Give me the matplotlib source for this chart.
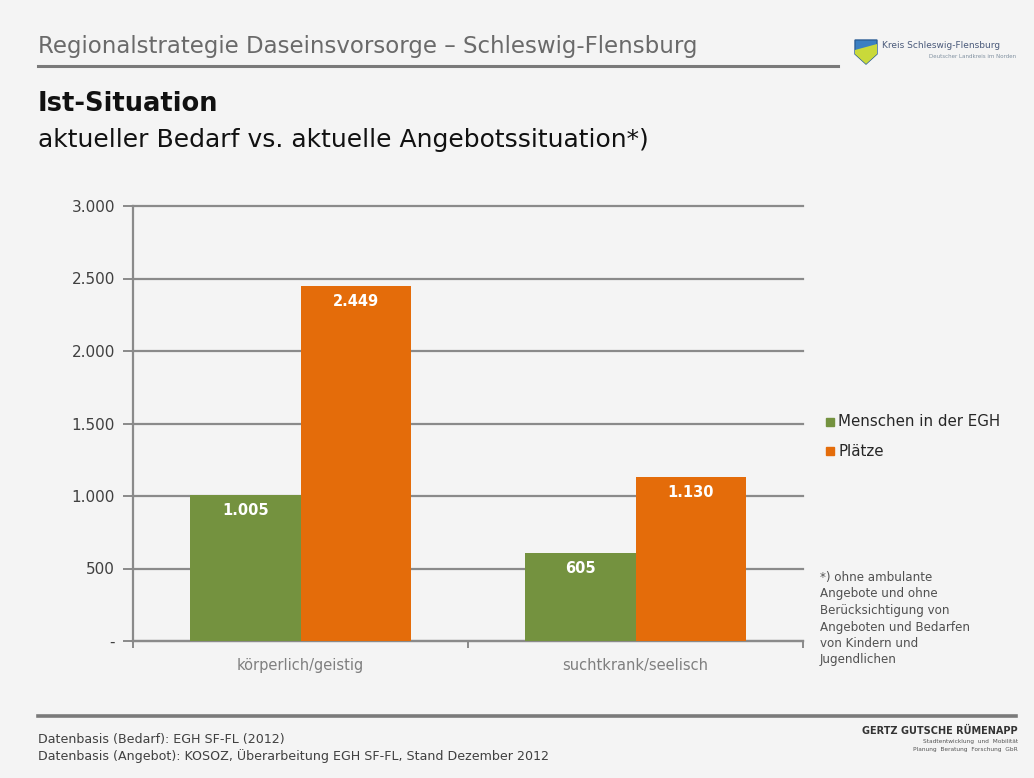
import matplotlib.pyplot as plt
from matplotlib.patches import Polygon
import numpy as np

categories = ["körperlich/geistig", "suchtkrank/seelisch"]
series_names = ["Menschen in der EGH", "Plätze"]
menschen = [1005, 605]
plaetze = [2449, 1130]
yticks = [0, 500, 1000, 1500, 2000, 2500, 3000]
ytick_labels = ["-", "500", "1.000", "1.500", "2.000", "2.500", "3.000"]

green = "#74923F"
orange = "#E46C0A"
bg = "#f4f4f4"
grid_c = "#8a8a8a"

plt.rcParams["font.family"] = ["DejaVu Sans"]

fig = plt.figure(figsize=(10.34, 7.78), dpi=100, facecolor=bg)
ax = fig.add_axes([133 / 1034, 1 - 641 / 778, 670 / 1034, 435 / 778])
ax.set_facecolor(bg)

x = np.arange(len(categories))
w = 0.33
b1 = ax.bar(x - w / 2, menschen, w, color=green, label=series_names[0], zorder=3)
b2 = ax.bar(x + w / 2, plaetze, w, color=orange, label=series_names[1], zorder=3)

def fmt(v):
    return f"{v:,}".replace(",", ".")

for bars, vals in ((b1, menschen), (b2, plaetze)):
    for r, v in zip(bars, vals):
        ax.text(r.get_x() + r.get_width() / 2, v - 55, fmt(v), ha="center", va="top",
                color="white", fontsize=10.5, fontweight="bold", zorder=4)

ax.set_xlim(-0.5, 1.5)
ax.set_ylim(0, 3000)
ax.set_yticks(yticks)
ax.set_yticklabels(ytick_labels, color="#404040", fontsize=11)
ax.yaxis.grid(True, color=grid_c, linewidth=1.6, zorder=0)
for gl in ax.yaxis.get_gridlines():
    gl.set_clip_on(False)
ax.set_axisbelow(True)

ax.set_xticks([-0.5, 0.5, 1.5])
ax.set_xticklabels([])
ax.set_xticks(x, minor=True)
ax.set_xticklabels(categories, minor=True, color="#7f7f7f", fontsize=10.5)
ax.tick_params(axis="x", which="minor", length=0, pad=12)
ax.tick_params(axis="x", which="major", length=5, color=grid_c, width=1.4)
ax.tick_params(axis="y", length=7, color=grid_c, width=1.4, pad=6)

for s in ("top", "right"):
    ax.spines[s].set_visible(False)
for s in ("left", "bottom"):
    ax.spines[s].set_color(grid_c)
    ax.spines[s].set_linewidth(1.6)

# legend drawn by hand beside the plot area
for i, (name, col) in enumerate(zip(series_names, [green, orange])):
    yy = 1 - (422 + i * 29) / 778
    fig.patches.append(plt.Rectangle((826 / 1034, yy - 4 / 778), 8 / 1034, 8 / 778,
                                     transform=fig.transFigure, color=col))
    fig.text(838 / 1034, yy, name, fontsize=10.8, color="#262626", va="center")

note = ("*) ohne ambulante\nAngebote und ohne\nBerücksichtigung von\n"
        "Angeboten und Bedarfen\nvon Kindern und\nJugendlichen")
fig.text(820 / 1034, 1 - 571 / 778, note, fontsize=8.6, color="#505050", va="top",
         linespacing=1.35)

# header
fig.text(38 / 1034, 1 - 47 / 778, "Regionalstrategie Daseinsvorsorge \u2013 Schleswig-Flensburg",
         fontsize=16.5, color="#6a6a6a", va="center")
fig.add_artist(plt.Line2D([38 / 1034, 838 / 1034], [1 - 66 / 778] * 2, color="#7a7a7a",
                          linewidth=2.2, transform=fig.transFigure))
fig.text(38 / 1034, 1 - 104 / 778, "Ist-Situation", fontsize=18.5, fontweight="bold",
         color="#111111", va="center")
fig.text(38 / 1034, 1 - 140 / 778, "aktueller Bedarf vs. aktuelle Angebotssituation*)",
         fontsize=18, color="#111111", va="center")

# small district logo
shield = Polygon(np.array([[855 / 1034, 1 - 40 / 778], [877 / 1034, 1 - 40 / 778],
                           [877 / 1034, 1 - 54 / 778], [866 / 1034, 1 - 64 / 778],
                           [855 / 1034, 1 - 54 / 778]]),
                 closed=True, transform=fig.transFigure, facecolor="#3a7fc2",
                 edgecolor="#2b5e96")
fig.patches.append(shield)
lower = Polygon(np.array([[855 / 1034, 1 - 50 / 778], [877 / 1034, 1 - 44 / 778],
                          [877 / 1034, 1 - 54 / 778], [866 / 1034, 1 - 64 / 778],
                          [855 / 1034, 1 - 54 / 778]]),
                closed=True, transform=fig.transFigure, facecolor="#c9d93a")
fig.patches.append(lower)
fig.text(882 / 1034, 1 - 46 / 778, "Kreis Schleswig-Flensburg", fontsize=6.5,
         color="#4a5a7a", va="center")
fig.text(1016 / 1034, 1 - 56 / 778, "Deutscher Landkreis im Norden", fontsize=4,
         color="#8090a0", va="center", ha="right")

# footer
fig.add_artist(plt.Line2D([38 / 1034, 1016 / 1034], [1 - 716 / 778] * 2, color="#7a7a7a",
                          linewidth=2.6, transform=fig.transFigure))
fig.text(38 / 1034, 1 - 739 / 778, "Datenbasis (Bedarf): EGH SF-FL (2012)", fontsize=9.1,
         color="#404040", va="center")
fig.text(38 / 1034, 1 - 756 / 778,
         "Datenbasis (Angebot): KOSOZ, Überarbeitung EGH SF-FL, Stand Dezember 2012",
         fontsize=9.1, color="#404040", va="center")
fig.text(1018 / 1034, 1 - 731 / 778, "GERTZ GUTSCHE RÜMENAPP", fontsize=7, fontweight="bold",
         color="#333333", va="center", ha="right")
fig.text(1018 / 1034, 1 - 742 / 778, "Stadtentwicklung  und  Mobilität", fontsize=4.2,
         color="#555555", va="center", ha="right")
fig.text(1018 / 1034, 1 - 750 / 778, "Planung  Beratung  Forschung  GbR", fontsize=4.2,
         color="#555555", va="center", ha="right")

fig.savefig("out.png", dpi=100, facecolor=bg)
